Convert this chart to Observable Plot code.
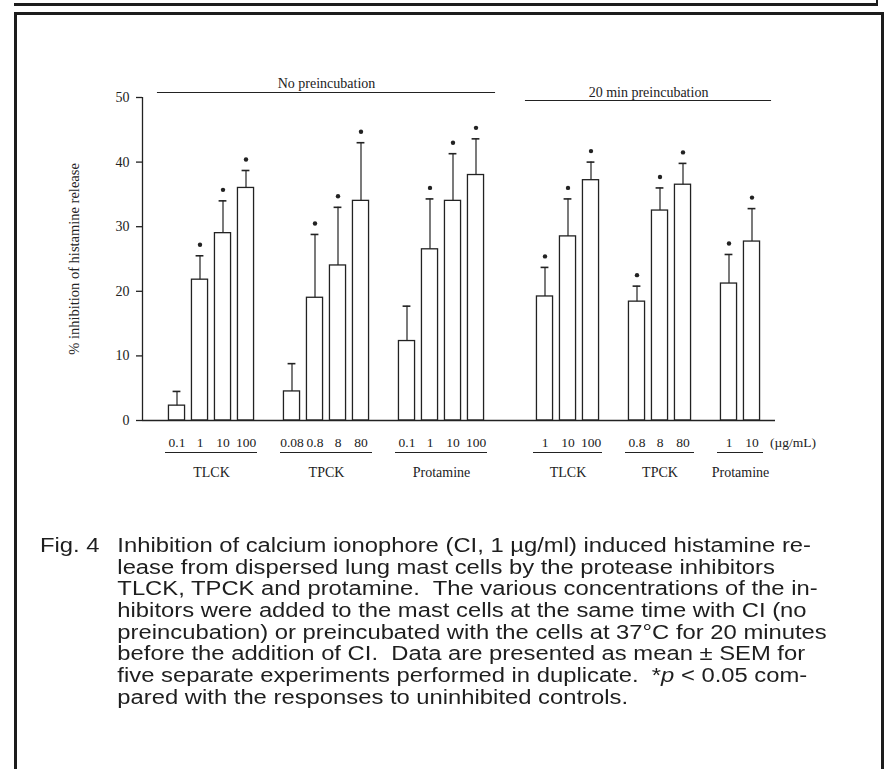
<!DOCTYPE html>
<html><head><meta charset="utf-8">
<script src="https://cdn.jsdelivr.net/npm/d3@7"></script>
<script src="https://cdn.jsdelivr.net/npm/@observablehq/plot@0.6"></script>
<style>
html,body{margin:0;padding:0;background:#fff;}
#page{position:relative;width:886px;height:769px;overflow:hidden;background:#fff;}
#chart{position:absolute;left:0;top:0;}
.rule{position:absolute;background:#1c1c1c;}
#caption{position:absolute;left:40px;top:535px;font-family:"Liberation Sans",Arial,sans-serif;font-size:20px;color:#1e1e1e;transform:scaleX(1.19);transform-origin:0 0;white-space:pre;}
#caption .fig{position:absolute;left:0;top:0;height:21.7px;line-height:21.7px;}
#caption .body{position:absolute;left:65px;top:0;}
#caption .line{height:21.7px;line-height:21.7px;overflow:visible;}
</style></head><body>
<div id="page">
  <div id="chart"></div>
  <div class="rule" style="left:14px;top:3px;width:864px;height:3px"></div>
  <div class="rule" style="left:876px;top:0;width:2px;height:6px"></div>
  <div class="rule" style="left:14px;top:12px;width:870px;height:3px"></div>
  <div class="rule" style="left:14px;top:12px;width:3px;height:770px"></div>
  <div class="rule" style="left:881px;top:12px;width:3px;height:770px"></div>
  <div id="caption"><div class="fig">Fig. 4</div><div class="body"></div></div>
</div>
<script>
// ---- data ----
const drugs = ["TLCK", "TPCK", "Protamine"];
const sections = ["No preincubation", "20 min preincubation"];

// No preincubation
const concNo = [["0.1", "1", "10", "100"], ["0.08", "0.8", "8", "80"], ["0.1", "1", "10", "100"]];
const meanNo = [[2.3, 21.8, 29, 36], [4.5, 19, 24, 34], [12.3, 26.5, 34, 38]];
const semNo = [[2.2, 3.7, 5, 2.7], [4.3, 9.8, 9, 9], [5.4, 7.8, 7.3, 5.6]];
const sigNo = [[false, true, true, true], [false, true, true, true], [false, true, true, true]];

// 20 min preincubation
const conc20 = [["1", "10", "100"], ["0.8", "8", "80"], ["1", "10"]];
const mean20 = [[19.2, 28.5, 37.2], [18.4, 32.5, 36.5], [21.2, 27.7]];
const sem20 = [[4.5, 5.8, 2.8], [2.4, 3.5, 3.3], [4.5, 5.1]];
const sig20 = [[true, true, true], [true, true, true], [true, true]];

const yTicks = [0, 10, 20, 30, 40, 50];
const yLabel = "% inhibition of histamine release";
const unitLabel = "(\u00b5g/mL)";

const captionLines = [
  "Inhibition of calcium ionophore (CI, 1 \u00b5g/ml) induced histamine re-",
  "lease from dispersed lung mast cells by the protease inhibitors",
  "TLCK, TPCK and protamine.  The various concentrations of the in-",
  "hibitors were added to the mast cells at the same time with CI (no",
  "preincubation) or preincubated with the cells at 37\u00b0C for 20 minutes",
  "before the addition of CI.  Data are presented as mean \u00b1 SEM for",
  "five separate experiments performed in duplicate.  *<i>p</i> &lt; 0.05 com-",
  "pared with the responses to uninhibited controls."
];

// ---- build table (slot = position along the x axis, gaps between groups) ----
const sectionData = [
  {conc: concNo, mean: meanNo, sem: semNo, sig: sigNo},
  {conc: conc20, mean: mean20, sem: sem20, sig: sig20}
];
const rows = [], groups = [], headers = [];
let slot = 1;
sectionData.forEach((sd, s) => {
  if (s > 0) slot += 2;
  const start = slot;
  drugs.forEach((drug, g) => {
    if (g > 0) slot += 1;
    const gStart = slot;
    sd.conc[g].forEach((c, i) => {
      rows.push({slot, conc: c, mean: sd.mean[g][i], sem: sd.sem[g][i], sig: sd.sig[g][i]});
      slot++;
    });
    groups.push({name: drug, first: gStart, last: slot - 1});
  });
  headers.push({name: sections[s], first: start, last: slot - 1});
});
const lastSlot = rows[rows.length - 1].slot;
const concBySlot = new Map(rows.map(d => [d.slot, d.conc]));
const ink = "#222";

const chart = Plot.plot({
  width: 886,
  height: 490,
  marginLeft: 142,
  marginRight: 111,
  marginTop: 97,
  marginBottom: 70,
  style: {fontFamily: "'Liberation Serif', 'Times New Roman', serif", fontSize: "14px", background: "transparent", color: ink},
  x: {domain: [-0.5, lastSlot + 1.5], range: [142, 786]},
  y: {domain: [0, 50]},
  marks: [
    Plot.ruleX([-0.5], {y1: 0, y2: 50, stroke: ink, strokeWidth: 1.3}),
    Plot.axisY({ticks: yTicks, tickSize: 6, tickPadding: 7, label: null, fontSize: 14, stroke: ink, strokeWidth: 1.3}),
    Plot.text([yLabel], {frameAnchor: "left", textAnchor: "middle", rotate: -90, dx: -68, fontSize: 14.5, fill: ink}),
    Plot.rectY(rows, {x1: d => d.slot - 0.35, x2: d => d.slot + 0.35, y1: 0, y2: "mean", fill: "white", stroke: ink, strokeWidth: 1.3}),
    Plot.ruleX(rows, {x: "slot", y1: "mean", y2: d => d.mean + d.sem, stroke: ink, strokeWidth: 1.2}),
    Plot.ruleY(rows, {y: d => d.mean + d.sem, x1: d => d.slot - 0.17, x2: d => d.slot + 0.17, stroke: ink, strokeWidth: 1.6}),
    Plot.dot(rows.filter(d => d.sig), {x: "slot", y: d => d.mean + d.sem, dy: -11, r: 2.2, fill: ink, stroke: "none"}),
    Plot.ruleY([0], {stroke: ink, strokeWidth: 1.3}),
    Plot.axisX({ticks: rows.map(d => d.slot), tickFormat: d => concBySlot.get(d), tickSize: 0, tickPadding: 17, label: null, fontSize: 13.5}),
    Plot.text([{label: unitLabel, slot: lastSlot}], {x: "slot", y: 0, text: "label", dx: 18, dy: 17, lineAnchor: "top", textAnchor: "start", fontSize: 13.5, fill: ink}),
    Plot.ruleY(groups, {y: 0, x1: d => d.first - 0.5, x2: d => d.last + 0.5, dy: 32, stroke: ink, strokeWidth: 1.2}),
    Plot.text(groups, {x: d => (d.first + d.last) / 2, y: 0, text: "name", dy: 52, fontSize: 14, fill: ink}),
    Plot.ruleY([headers[0]], {y: 50, x1: d => d.first - 0.85, x2: d => d.last + 0.85, dy: -5, stroke: ink, strokeWidth: 1.2}),
    Plot.ruleY([headers[1]], {y: 50, x1: d => d.first - 0.85, x2: d => d.last + 0.85, dy: 3, stroke: ink, strokeWidth: 1.2}),
    Plot.text([headers[0]], {x: d => (d.first + d.last) / 2, y: 50, text: "name", dy: -14, fontSize: 14, fill: ink}),
    Plot.text([headers[1]], {x: d => (d.first + d.last) / 2, y: 50, text: "name", dy: -5, fontSize: 14, fill: ink})
  ]
});
document.getElementById("chart").appendChild(chart);
const body = document.querySelector("#caption .body");
captionLines.forEach(t => {
  const div = document.createElement("div");
  div.className = "line";
  div.innerHTML = t;
  body.appendChild(div);
});
</script>
</body></html>
